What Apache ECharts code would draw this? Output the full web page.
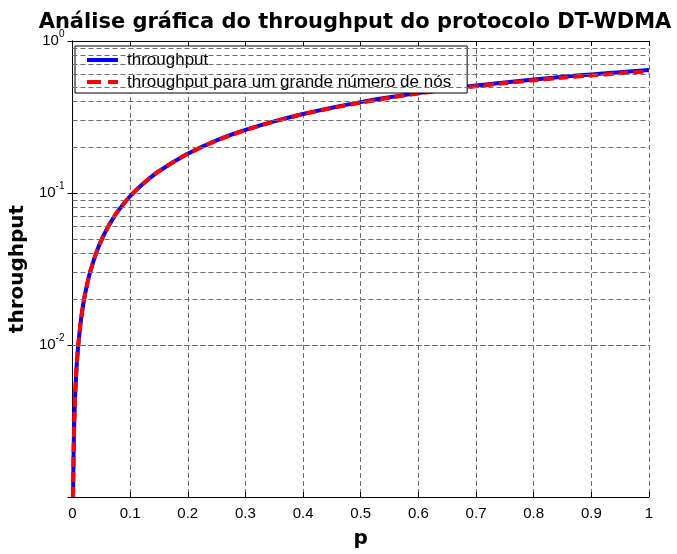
<!DOCTYPE html>
<html>
<head>
<meta charset="utf-8">
<script src="https://cdn.jsdelivr.net/npm/echarts@6/dist/echarts.min.js"></script>
<style>html,body{margin:0;padding:0;background:#fff}#c{width:677px;height:554px}</style>
</head>
<body>
<div id="c"></div>
<script>
// values
var pValues = [0.001,0.002,0.003,0.004,0.005,0.007,0.01,0.015,0.02,0.025,0.03,0.04,0.05,0.06,0.07,0.08,0.1,0.12,0.15,0.2,0.25,0.3,0.35,0.4,0.45,0.5,0.55,0.6,0.65,0.7,0.75,0.8,0.85,0.9,0.95,1.0];
var throughputFinite = [0.001,0.002,0.003,0.004,0.005,0.007,0.0099,0.0149,0.0198,0.0247,0.0296,0.0392,0.0488,0.0582,0.0676,0.0769,0.0952,0.113,0.139,0.181,0.222,0.260,0.296,0.331,0.364,0.396,0.426,0.455,0.483,0.509,0.534,0.558,0.581,0.603,0.624,0.644];
var throughputLargeN = [0.001,0.002,0.003,0.004,0.005,0.007,0.0099,0.0149,0.0198,0.0247,0.0296,0.0392,0.0488,0.0582,0.0676,0.0769,0.0952,0.113,0.139,0.181,0.221,0.259,0.295,0.330,0.362,0.393,0.423,0.451,0.478,0.503,0.528,0.551,0.573,0.593,0.613,0.632];
var xTicks = [0,0.1,0.2,0.3,0.4,0.5,0.6,0.7,0.8,0.9,1];
var yMinorGrid = [0.002,0.003,0.004,0.005,0.006,0.007,0.008,0.009,0.02,0.03,0.04,0.05,0.06,0.07,0.08,0.09,0.2,0.3,0.4,0.5,0.6,0.7,0.8,0.9];
var titleText = 'Análise gráfica do throughput do protocolo DT-WDMA';
var legendNames = ['throughput','throughput para um grande número de nós'];

var gridColor = '#6e6e6e';
var dashStyle = {type:[5,3], color:gridColor, width:1};
var font = 'Liberation Sans, Arial, sans-serif';
var boldFont = 'DejaVu Sans, Verdana, sans-serif';

function zip(a,b){return a.map(function(v,i){return [v,b[i]];});}

var chart = echarts.init(document.getElementById('c'), null, {renderer:'canvas'});
chart.setOption({
  animation:false,
  backgroundColor:'#fff',
  title:{text:titleText,left:350,textAlign:'center',top:7,
    textStyle:{fontFamily:boldFont,fontWeight:'bold',fontSize:21,color:'#000'}},
  grid:{left:71,right:28,top:41,bottom:56,containLabel:false},
  legend:{
    orient:'vertical',left:75,top:46,
    data:[
      {name:legendNames[0],icon:'rect',itemStyle:{color:'#0000ff'}},
      {name:legendNames[1],icon:'path://M0,0h14v4h-14z M21,0h10v4h-10z',itemStyle:{color:'#ff0000'}}
    ],
    backgroundColor:'#fff',borderColor:'#000',borderWidth:1,borderRadius:0,
    padding:[5,16,2,12],itemGap:4,itemWidth:31,itemHeight:4,
    textStyle:{fontFamily:font,fontSize:17,color:'#000',padding:[0,0,0,4],lineHeight:18}
  },
  xAxis:[{
    type:'value',min:0,max:1,interval:0.1,position:'bottom',
    name:'p',nameLocation:'middle',nameGap:32,
    nameTextStyle:{fontFamily:boldFont,fontWeight:'bold',fontSize:20,color:'#000'},
    axisLine:{lineStyle:{color:'#000',width:1}},
    axisTick:{inside:true,length:5,lineStyle:{color:'#000'}},
    axisLabel:{fontFamily:font,fontSize:15,color:'#000',margin:9,
      formatter:function(v){return String(Math.round(v*10)/10);}},
    splitLine:{show:true,lineStyle:dashStyle}
  },{
    type:'value',min:0,max:1,interval:0.1,position:'top',
    axisLine:{show:true,lineStyle:{color:'#000',width:1}},
    axisTick:{inside:true,length:5,lineStyle:{color:'#000'}},
    axisLabel:{show:false},splitLine:{show:false}
  }],
  yAxis:[{
    type:'log',logBase:10,min:0.001,max:1,position:'left',
    name:'throughput',nameLocation:'middle',nameGap:38,
    nameTextStyle:{fontFamily:boldFont,fontWeight:'bold',fontSize:20,color:'#000'},
    axisLine:{show:true,lineStyle:{color:'#000',width:1}},
    axisTick:{inside:true,length:5,lineStyle:{color:'#000'}},
    axisLabel:{showMinLabel:false,margin:8,color:'#000',
      formatter:function(v){var e=Math.round(Math.log10(v));return '{b|10}{s|'+e+'}';},
      rich:{b:{fontFamily:font,fontSize:15,color:'#000'},
            s:{fontFamily:font,fontSize:10,color:'#000',padding:[0,0,14,0]}}},
    splitLine:{show:true,lineStyle:dashStyle}
  },{
    type:'log',logBase:10,min:0.001,max:1,position:'right',
    axisLine:{show:true,lineStyle:{color:'#000',width:1}},
    axisTick:{inside:true,length:5,lineStyle:{color:'#000'}},
    axisLabel:{show:false},splitLine:{show:false}
  }],
  series:[{
    name:legendNames[0],type:'line',xAxisIndex:0,yAxisIndex:0,
    data:zip(pValues,throughputFinite),showSymbol:false,symbol:'none',smooth:0.3,
    lineStyle:{color:'#0000ff',width:4,type:'solid',cap:'butt'},itemStyle:{color:'#0000ff'},
    markLine:{silent:true,symbol:'none',label:{show:false},animation:false,
      lineStyle:dashStyle,emphasis:{disabled:true},
      data:yMinorGrid.map(function(v){return {yAxis:v};})},
    z:2
  },{
    name:legendNames[1],type:'line',xAxisIndex:0,yAxisIndex:0,
    data:zip(pValues,throughputLargeN),showSymbol:false,symbol:'none',smooth:0.3,
    lineStyle:{color:'#ff0000',width:4,type:[10,5],cap:'butt'},itemStyle:{color:'#ff0000'},
    z:3
  }]
});
</script>
</body>
</html>
